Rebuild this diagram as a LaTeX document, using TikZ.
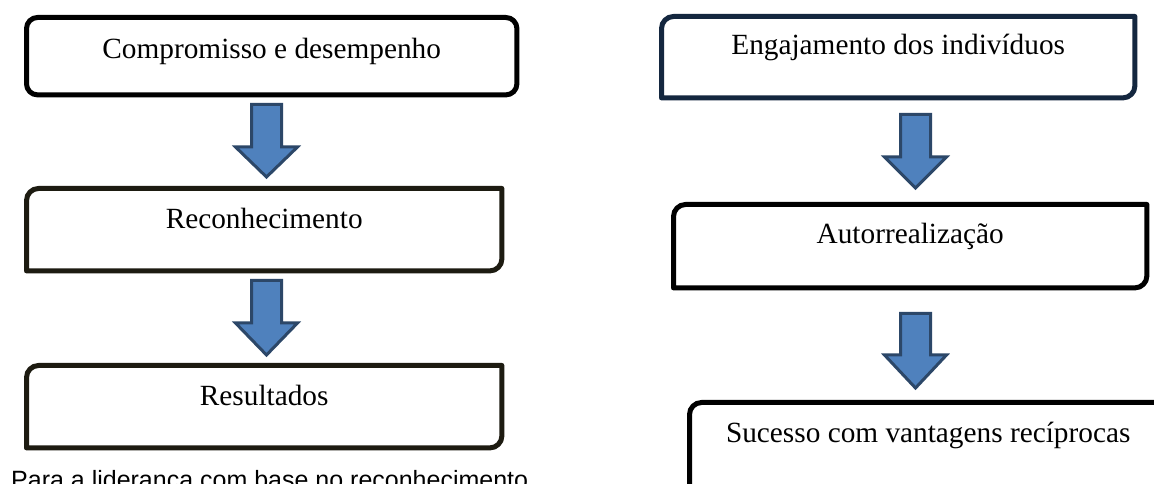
\documentclass[tikz,border=0pt]{standalone}
\usepackage{fontspec}
\setmainfont{Liberation Serif}
\newfontfamily\capfont{Liberation Sans}
\usetikzlibrary{calc}
\definecolor{arrfill}{HTML}{4F81BD}
\definecolor{arrdraw}{HTML}{2C4768}
\definecolor{navyline}{HTML}{14273F}
\definecolor{brownline}{HTML}{1D1B11}
\tikzset{
  boxnode/.style={draw=none, inner sep=0pt, anchor=north west},
  boxline/.style={line width=5pt, line join=round},
  lbl/.style={font=\fontsize{29.3}{34}\selectfont, anchor=base, inner sep=0pt},
  blockarrow/.style={fill=arrfill, draw=arrdraw, line width=3pt, line join=miter},
}
% box with rounded top-left and bottom-right corners
\newcommand\boxTLBR[2]{%
  \draw[boxline,draw=#2] ([yshift=-12pt]#1.north west) arc[start angle=180,end angle=90,radius=12pt]
    -- (#1.north east) -- ([yshift=12pt]#1.south east) arc[start angle=0,end angle=-90,radius=12pt]
    -- (#1.south west) -- cycle;}
% block arrow: centre x, shaft top, head top, tip (image coordinates, y down)
\newcommand\blockarr[4]{%
  \draw[blockarrow] ({#1-15},{484-#2}) -- ({#1+15},{484-#2}) -- ({#1+15},{484-#3})
    -- ({#1+31},{484-#3}) -- (#1,{484-#4}) -- ({#1-31},{484-#3}) -- ({#1-15},{484-#3}) -- cycle;}
\begin{document}
\begin{tikzpicture}[x=1pt,y=1pt]
\useasboundingbox (0,0) rectangle (1154,484);
\clip (0,0) rectangle (1154,484);
\fill[white] (0,0) rectangle (1154,484);
% left column
\node[boxnode, minimum width=490pt, minimum height=77pt] (L1) at (26.5,466.5) {};
\node[boxnode, minimum width=475pt, minimum height=82pt] (L2) at (26.5,295.5) {};
\node[boxnode, minimum width=475pt, minimum height=82pt] (L3) at (26.5,118.5) {};
\draw[boxline, rounded corners=11pt] (L1.north west) rectangle (L1.south east);
\boxTLBR{L2}{brownline}
\boxTLBR{L3}{brownline}
\node[lbl] (t1) at ($(L1.north)+(0,-41)$) {Compromisso e desempenho};
\node[lbl] (t2) at ($(L2.north)+(0,-40)$) {Reconhecimento};
\node[lbl] (t3) at ($(L3.north)+(0,-40)$) {Resultados};
\blockarr{266.5}{104.5}{147}{177}
\blockarr{266.5}{280.5}{323}{355}
% right column
\node[boxnode, minimum width=473pt, minimum height=81pt] (R1) at (661.5,467.5) {};
\node[boxnode, minimum width=473pt, minimum height=83pt] (R2) at (673.5,279.5) {};
\node[boxnode, minimum width=477pt, minimum height=86pt] (R3) at (689.5,81.5) {};
\boxTLBR{R1}{navyline}
\boxTLBR{R2}{black}
\boxTLBR{R3}{black}
\node[lbl] (t4) at ($(R1.north)+(0,-38.5)$) {Engajamento dos indivíduos};
\node[lbl] (t5) at ($(R2.north)+(0,-39.5)$) {Autorrealização};
\node[lbl] (t6) at ($(R3.north)+(0,-40)$) {Sucesso com vantagens recíprocas};
\blockarr{915.5}{114.5}{157}{188}
\blockarr{915.5}{313.5}{355}{388}
% caption
\node[font=\capfont\fontsize{25}{30}\selectfont, anchor=base west, inner sep=0pt] (cap) at (11,{484-488.5}) {Para a liderança com base no reconhecimento};
\end{tikzpicture}
\end{document}
